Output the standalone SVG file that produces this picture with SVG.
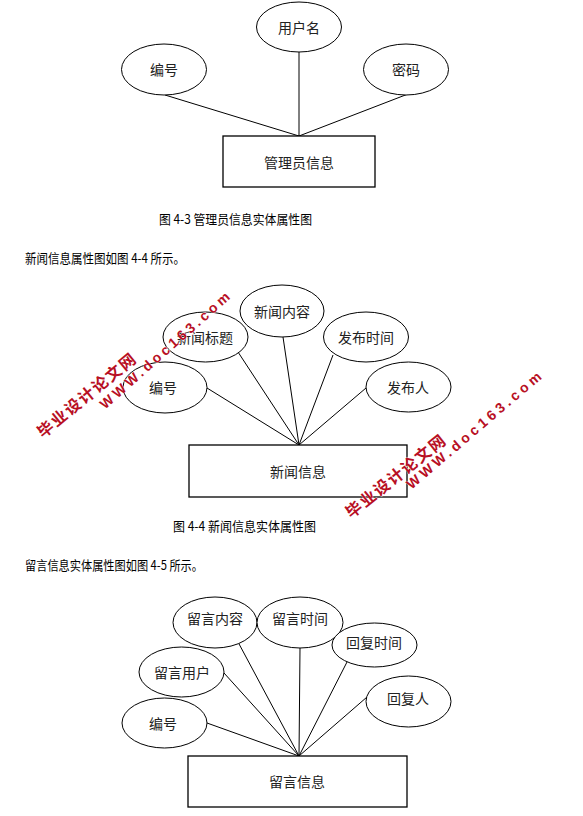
<svg xmlns="http://www.w3.org/2000/svg" width="583" height="816" viewBox="0 0 583 816">
<style>
.bg{fill:#fff}
.e{fill:#fff;stroke:#000;stroke-width:1}
.r{fill:#fff;stroke:#000;stroke-width:1.3}
.c line{stroke:#000;stroke-width:1}
.t{font-family:"Noto Sans CJK SC","Liberation Sans",sans-serif;font-size:14px;fill:#222;text-anchor:middle;dominant-baseline:central}
.cap{font-family:"Noto Sans CJK SC","Liberation Serif",serif;font-size:13px;fill:#000}
.wm{font-family:"Liberation Sans","Noto Sans CJK SC",sans-serif;font-weight:bold;fill:#b80f24;stroke:#fff;stroke-width:0.6;paint-order:stroke;text-anchor:middle}
</style>
<rect class="bg" x="0" y="0" width="583" height="816"/>

<!-- Figure 4-3 -->
<g id="fig43-connectors" class="c">
<line x1="165" y1="95" x2="299" y2="136"/>
<line x1="299" y1="52" x2="299" y2="136"/>
<line x1="408" y1="94" x2="299" y2="136"/>
</g>
<g id="n43-yonghuming"><ellipse class="e" cx="299" cy="27" rx="42.5" ry="25"/><text class="t" x="299" y="27">用户名</text></g>
<g id="n43-bianhao"><ellipse class="e" cx="164" cy="69.5" rx="42.5" ry="25.5"/><text class="t" x="164" y="69">编号</text></g>
<g id="n43-mima"><ellipse class="e" cx="406" cy="69.5" rx="42.5" ry="25.5"/><text class="t" x="406" y="69">密码</text></g>
<g id="n43-admin"><rect class="r" x="223" y="136" width="152" height="51"/><text class="t" x="299" y="162">管理员信息</text></g>
<text class="cap" x="159" y="224" textLength="153" lengthAdjust="spacingAndGlyphs">图 4-3 管理员信息实体属性图</text>
<text class="cap" x="25" y="263" textLength="160" lengthAdjust="spacingAndGlyphs">新闻信息属性图如图 4-4 所示。</text>

<!-- Figure 4-4 -->
<g id="fig44-connectors" class="c">
<line x1="207" y1="388" x2="299" y2="445"/>
<line x1="238" y1="352" x2="299" y2="445"/>
<line x1="283" y1="337" x2="299" y2="445"/>
<line x1="333" y1="355" x2="299" y2="445"/>
<line x1="366" y1="388" x2="299" y2="445"/>
</g>
<g id="n44-neirong"><ellipse class="e" cx="282" cy="311" rx="42" ry="26"/><text class="t" x="282" y="311">新闻内容</text></g>
<g id="n44-biaoti"><ellipse class="e" cx="205.5" cy="337" rx="42.5" ry="25"/><text class="t" x="205" y="337">新闻标题</text></g>
<g id="n44-fabushijian"><ellipse class="e" cx="366" cy="337" rx="42.5" ry="25"/><text class="t" x="366" y="337">发布时间</text></g>
<g id="n44-bianhao"><ellipse class="e" cx="165" cy="387.5" rx="42" ry="25.5"/><text class="t" x="163" y="387">编号</text></g>
<g id="n44-faburen"><ellipse class="e" cx="408.5" cy="387" rx="42.5" ry="25"/><text class="t" x="408" y="387">发布人</text></g>
<g id="n44-news"><rect class="r" x="189" y="445" width="218" height="52"/><text class="t" x="298" y="471">新闻信息</text></g>
<text class="cap" x="173" y="531" textLength="143" lengthAdjust="spacingAndGlyphs">图 4-4  新闻信息实体属性图</text>
<text class="cap" x="25" y="570" textLength="178" lengthAdjust="spacingAndGlyphs">留言信息实体属性图如图 4-5 所示。</text>

<!-- Figure 4-5 -->
<g id="fig45-connectors" class="c">
<line x1="207" y1="723" x2="299" y2="756"/>
<line x1="224" y1="673" x2="299" y2="756"/>
<line x1="238" y1="642" x2="299" y2="756"/>
<line x1="300" y1="648" x2="299" y2="756"/>
<line x1="347" y1="662" x2="299" y2="756"/>
<line x1="367" y1="697" x2="299" y2="756"/>
</g>
<g id="n45-neirong"><ellipse class="e" cx="215" cy="622.5" rx="42" ry="25.5"/><text class="t" x="215" y="618">留言内容</text></g>
<g id="n45-shijian"><ellipse class="e" cx="300" cy="622.5" rx="43" ry="25.5"/><text class="t" x="300" y="618">留言时间</text></g>
<g id="n45-huifushijian"><ellipse class="e" cx="374.5" cy="645" rx="42.5" ry="22"/><text class="t" x="374" y="642">回复时间</text></g>
<g id="n45-yonghu"><ellipse class="e" cx="181.5" cy="672" rx="42.5" ry="25"/><text class="t" x="182" y="672">留言用户</text></g>
<g id="n45-huifuren"><ellipse class="e" cx="408.5" cy="701.5" rx="42.5" ry="25.5"/><text class="t" x="408" y="698">回复人</text></g>
<g id="n45-bianhao"><ellipse class="e" cx="164.5" cy="723" rx="42.5" ry="25"/><text class="t" x="163" y="723">编号</text></g>
<g id="n45-msg"><rect class="r" x="188" y="756" width="219" height="51"/><text class="t" x="297" y="781">留言信息</text></g>

<!-- watermarks -->
<g id="watermark1">
<text class="wm" font-size="16" transform="translate(90,400) rotate(-39.5)" textLength="122" lengthAdjust="spacing">毕业设计论文网</text>
<text class="wm" font-size="14" transform="translate(168,354) rotate(-41.5)" textLength="168" lengthAdjust="spacing">WWW.doc163.com</text>
</g>
<g id="watermark2">
<text class="wm" font-size="16" transform="translate(399,481) rotate(-38.6)" textLength="122" lengthAdjust="spacing">毕业设计论文网</text>
<text class="wm" font-size="14" transform="translate(477,434) rotate(-40.5)" textLength="172" lengthAdjust="spacing">WWW.doc163.com</text>
</g>
</svg>
